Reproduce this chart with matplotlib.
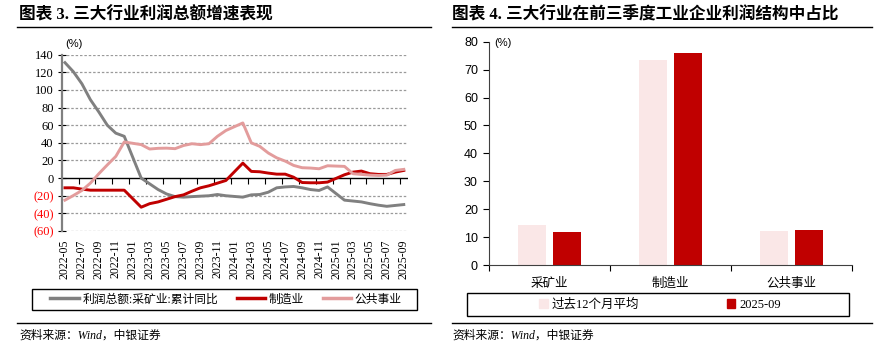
import matplotlib.pyplot as plt
from matplotlib.lines import Line2D
from matplotlib.patches import Rectangle, Patch

plt.rcParams['font.family'] = ['Liberation Serif', 'Noto Sans CJK SC']
plt.rcParams['axes.unicode_minus'] = False

# ---------------- data: left chart (monthly, no January data) ----------------
months = ['2022-05', '2022-06', '2022-07', '2022-08', '2022-09', '2022-10', '2022-11', '2022-12',
          '2023-02', '2023-03', '2023-04', '2023-05', '2023-06', '2023-07', '2023-08', '2023-09',
          '2023-10', '2023-11', '2023-12',
          '2024-02', '2024-03', '2024-04', '2024-05', '2024-06', '2024-07', '2024-08', '2024-09',
          '2024-10', '2024-11', '2024-12',
          '2025-02', '2025-03', '2025-04', '2025-05', '2025-06', '2025-07', '2025-08', '2025-09']
mining = [131, 120.6, 107, 89, 75, 60, 51, 47.4,
          0, -6.5, -13, -18, -21, -21.6, -21, -20.5, -20, -18.6, -20,
          -21.6, -19, -18.6, -16, -11, -10, -9.5, -11, -13, -14, -10,
          -25, -26, -27, -29, -30.7, -32, -31, -30]
manufacturing = [-11, -11, -12.5, -13.7, -13.7, -13.7, -13.7, -13.7,
                 -33, -29, -27, -24, -21, -19, -14.8, -11, -8.7, -5.7, -2.7,
                 17, 7.6, 7.2, 5.7, 4.5, 4.5, 1, -5, -5.3, -5.3, -4.5,
                 3.8, 6.8, 8, 5, 4.2, 4.2, 6.8, 8.7]
utilities = [-25, -19.7, -14, -5.7, 5, 15, 24.6, 41,
             38, 33, 33.8, 34, 33.4, 37, 39, 38, 39, 47.4, 54,
             62.6, 40, 36, 28.5, 23, 19.3, 14.4, 11.8, 11.4, 10.6, 14,
             13.3, 5, 4.2, 3.4, 3, 3.4, 8.7, 9.9]
series_names = ['利润总额:采矿业:累计同比', '制造业', '公共事业']

# ---------------- data: right chart ----------------
industries = ['采矿业', '制造业', '公共事业']
past12_avg = [14.3, 73.4, 12.3]
latest = [11.8, 75.8, 12.5]
bar_names = ['过去12个月平均', '2025-09']

W, H = 883, 356
fig = plt.figure(figsize=(W / 100, H / 100), dpi=100)


def fx(px):
    return px / W


def fy(py):
    return 1 - py / H


def month_index(m):
    y, mm = int(m[:4]), int(m[5:])
    return (y - 2022) * 12 + mm - 5


xs = [month_index(m) for m in months]

GRAY = '#808080'
RED = '#C00000'
PINK = '#E39C9C'

# ---------------- left chart ----------------
ax = fig.add_axes([fx(62), fy(231), fx(408) - fx(62), fy(54.7) - fy(231)])
ax.plot(xs, mining, color=GRAY, lw=2.1, solid_joinstyle='round')
ax.plot(xs, manufacturing, color=RED, lw=2.1, solid_joinstyle='round')
ax.plot(xs, utilities, color=PINK, lw=2.1, solid_joinstyle='round')
ax.set_xlim(-0.35, 40.5)
ax.set_ylim(-60, 140)

yt = list(range(-60, 141, 20))
ylabels = [f'({-v})' if v < 0 else str(v) for v in yt]
ax.set_yticks(yt, labels=ylabels)
for lab, v in zip(ax.get_yticklabels(), yt):
    lab.set_color('#FF0000' if v < 0 else 'black')
    lab.set_fontsize(9)
ax.tick_params(axis='y', direction='inout', length=6, width=0.8, pad=3)
for v in yt:
    if v != 0:
        ax.axhline(v, color='#9A9A9A', lw=0.9, ls=(0, (2, 1.5)), zorder=0)
ax.axhline(0, color='black', lw=1.0, zorder=1)

xt = list(range(0, 41, 2))
xlabels = [f'{2022 + (k + 4) // 12}-{(k + 4) % 12 + 1:02d}' for k in xt]
ax.set_xticks(xt, labels=xlabels, rotation=90, fontsize=8.5)
ax.tick_params(axis='x', length=0, pad=6)
for s in ['top', 'right', 'bottom']:
    ax.spines[s].set_visible(False)
ax.spines['left'].set_color(GRAY)
ax.spines['left'].set_linewidth(1.6)

sec = ax.secondary_xaxis(0.3)
sec.set_xticks([k + 1.6 for k in range(0, 39, 2)])
sec.tick_params(axis='x', direction='out', length=4, width=0.8, labelbottom=False, labeltop=False)
sec.spines['bottom'].set_visible(False)
sec.spines['top'].set_visible(False)

ax.text(fx(74), fy(44), '(%)', transform=fig.transFigure, fontsize=8,
        family=['Liberation Sans'], ha='center', va='center')

handles = [Line2D([], [], color=c, lw=2.5) for c in (GRAY, RED, PINK)]
fig.legend(handles, series_names, loc='center', bbox_to_anchor=(fx(226), fy(299.5)),
           ncol=3, frameon=False, fontsize=8.5, handlelength=2.4, handletextpad=0.3,
           columnspacing=1.6)
fig.add_artist(Rectangle((fx(32), fy(310)), fx(417) - fx(32), fy(289) - fy(310),
                         transform=fig.transFigure, fill=False, ec='black', lw=1))

# ---------------- right chart ----------------
ax2 = fig.add_axes([fx(489), fy(265), fx(852) - fx(489), fy(41.7) - fy(265)])
pos = list(range(len(industries)))
ax2.bar([p - 0.145 for p in pos], past12_avg, width=0.23, color='#FAE7E7')
ax2.bar([p + 0.145 for p in pos], latest, width=0.23, color=RED)
ax2.set_xlim(-0.5, 2.5)
ax2.set_ylim(0, 80)
ax2.set_yticks(range(0, 81, 10))
ax2.tick_params(axis='y', direction='out', length=4, width=0.8, labelsize=9, pad=4)
for lab in ax2.get_yticklabels():
    lab.set_family(['Liberation Sans'])
ax2.set_xticks(pos, labels=industries, fontsize=9)
ax2.set_xticks([-0.5, 0.5, 1.5, 2.5], minor=True)
ax2.tick_params(axis='x', which='major', length=0, pad=9)
ax2.tick_params(axis='x', which='minor', direction='out', length=4, width=0.8)
for s in ['top', 'right']:
    ax2.spines[s].set_visible(False)
ax2.spines['left'].set_color('#404040')
ax2.spines['bottom'].set_color('#404040')
ax2.text(fx(503), fy(43), '(%)', transform=fig.transFigure, fontsize=8,
         family=['Liberation Sans'], ha='center', va='center')

bar_handles = [Patch(color='#FAE7E7'), Patch(color=RED)]
fig.legend(bar_handles, bar_names, loc='center', bbox_to_anchor=(fx(660), fy(304.5)),
           ncol=2, frameon=False, fontsize=9, handlelength=0.7, handleheight=0.7,
           handletextpad=0.3, columnspacing=7)
fig.add_artist(Rectangle((fx(467), fy(316)), fx(849) - fx(467), fy(293) - fy(316),
                         transform=fig.transFigure, fill=False, ec='black', lw=1))

# ---------------- titles, rules and sources ----------------
fig.text(fx(19), fy(15), '图表 3. 三大行业利润总额增速表现', fontsize=12, weight='bold',
         ha='left', va='center')
fig.text(fx(452), fy(15), '图表 4. 三大行业在前三季度工业企业利润结构中占比', fontsize=12,
         weight='bold', ha='left', va='center')
for x0, x1 in [(17, 431), (452, 872)]:
    fig.add_artist(Line2D([fx(x0), fx(x1)], [fy(27), fy(27)], color='black', lw=1))
    fig.add_artist(Line2D([fx(x0), fx(x1)], [fy(323), fy(323)], color='black', lw=1))
fig.text(fx(19), fy(336), '资料来源：Wind，中银证券', fontsize=8.5, style='italic',
         ha='left', va='center')
fig.text(fx(452), fy(336), '资料来源：Wind，中银证券', fontsize=8.5, style='italic',
         ha='left', va='center')

fig.savefig('out.png', dpi=100)
